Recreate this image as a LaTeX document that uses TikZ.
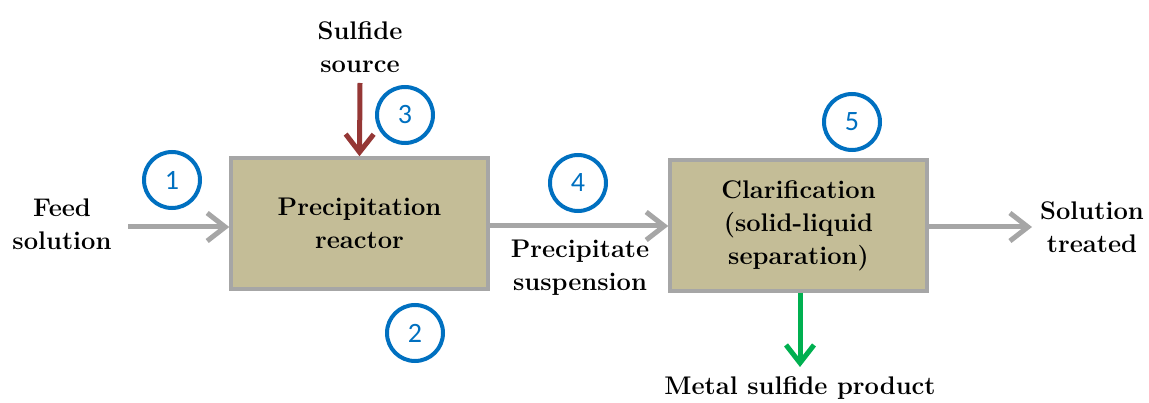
\documentclass[tikz,border=0pt]{standalone}
\usepackage{fontspec}
\newfontfamily\numfont{Carlito}
\usepackage{tikz}
\usetikzlibrary{arrows.meta}
\usetikzlibrary{positioning}
\definecolor{boxfill}{RGB}{196,189,151}
\definecolor{boxline}{RGB}{166,166,166}
\definecolor{flow}{RGB}{166,166,166}
\definecolor{sulfide}{RGB}{149,55,53}
\definecolor{product}{RGB}{0,176,80}
\definecolor{step}{RGB}{0,112,192}

\begin{document}
\begin{tikzpicture}[x=1pt, y=-1pt,
		every node/.style={font=\fontsize{25.5}{33}\selectfont\bfseries, align=center},
		unit/.style={rectangle, draw=boxline, fill=boxfill, line width=3.5pt, minimum width=257pt, minimum height=131pt},
		stepnum/.style={circle, draw=step, line width=4pt, minimum size=56pt, inner sep=0pt, text=step, font=\fontsize{28}{28}\numfont},
		pipe/.style={line width=5pt, -{Straight Barb[length=18pt, width=28pt, line width=5pt]}},
		feedline/.style={pipe, flow},
		sulfideline/.style={pipe, sulfide},
		productline/.style={pipe, product}
	]
	\useasboundingbox (0,0) rectangle (1149,403);

	\node[unit] (reactor) at (359.5,223.5) {Precipitation\\reactor};
	\node[unit] (clar) at (798.5,225.5) {Clarification\\(solid-liquid\\separation)};

	\node (feed) at (62,224) {Feed\\solution};
	\node (sulf) at (360,47) {Sulfide\\source};
	\node (susp) at (580,268) {Precipitate\\suspension};
	\node (treated) at (1092,227) {Solution\\treated};
	\node (metal) at (800,388) {Metal sulfide product};

	\coordinate (feedend) at (128,227);
	\coordinate (sulfend) at (360,83);
	\coordinate (outend) at (1032,227);
	\coordinate (metalend) at (800,367);

	\draw[feedline] (feedend) -- (reactor.west |- feedend);
	\draw[sulfideline] (sulfend) -- (reactor.north);
	\draw[feedline] (reactor.east |- 0,226) -- (clar.west |- 0,226);
	\draw[feedline] (clar.east |- outend) -- (outend);
	\draw[productline] (clar.south -| metalend) -- (metalend);

	% process steps
	\node[stepnum] (s1) at (172,180) {1};
	\node[stepnum] (s2) at (415,333) {2};
	\node[stepnum] (s3) at (405,115) {3};
	\node[stepnum] (s4) at (578,183) {4};
	\node[stepnum] (s5) at (852,122) {5};
\end{tikzpicture}
\end{document}
